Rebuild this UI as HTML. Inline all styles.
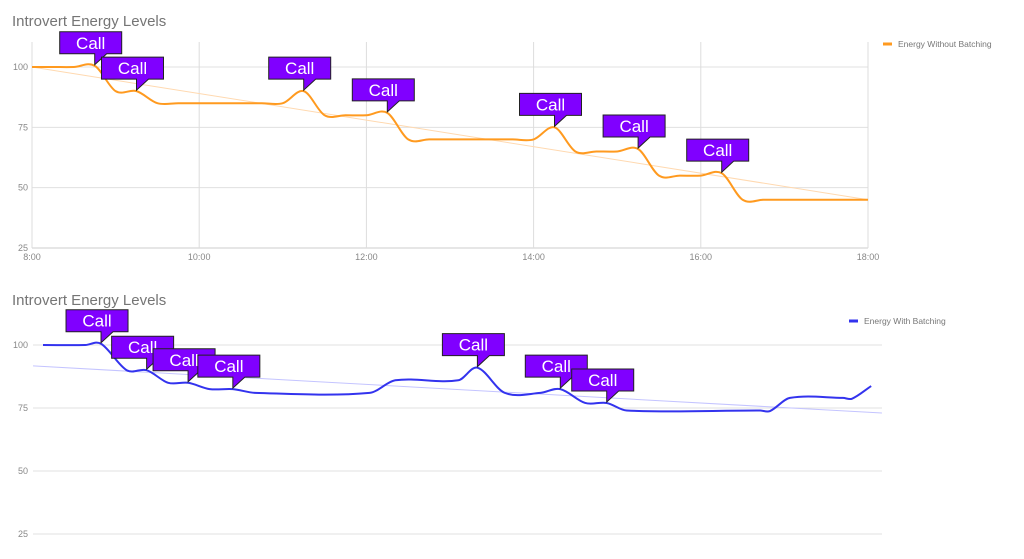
<!DOCTYPE html>
<html><head><meta charset="utf-8"><style>
body{margin:0;background:#fff;width:1024px;height:559px;overflow:hidden;font-family:"Liberation Sans",sans-serif}
svg{display:block}
</style></head><body>
<svg id="c" width="1024" height="559" xmlns="http://www.w3.org/2000/svg"></svg>
<script>
// ---------- Top chart data ----------
const topHours = [8,8.25,8.5,8.75,9,9.25,9.5,9.75,10,10.25,10.5,10.75,11,11.25,11.5,11.75,12,12.25,12.5,12.75,13,13.25,13.5,13.75,14,14.25,14.5,14.75,15,15.25,15.5,15.75,16,16.25,16.5,16.75,17,17.25,17.5,17.75,18];
const topValues = [100,100,100,100.5,90,90,85,85,85,85,85,85,85,90,80,80,80,81,70,70,70,70,70,70,70,75,65,65,65,66,55,55,55,56,45,45,45,45,45,45,45];
const topCallHours = [8.75,9.25,11.25,12.25,14.25,15.25,16.25];
const topCallValues = [100.5,90,90,81,75,66,56];
const topTrend = [100,45];
const topXTicks = ["8:00","10:00","12:00","14:00","16:00","18:00"];
const topXTickHours = [8,10,12,14,16,18];
const yTicks = [100,75,50,25];
// ---------- Bottom chart data ----------
const botHours = [8,8.51,8.7,9.01,9.25,9.51,9.75,10.01,10.29,10.56,11.94,12.25,13.01,13.24,13.57,14.0,14.24,14.54,14.8,15.04,16.65,16.77,17.01,17.65,17.76,17.99];
const botValues = [100,100,100.5,90,90,85,85,82.5,82.5,81,81,86,86,91,81,81,82.5,77,77,74,74,73.8,79,79,78.7,83.7];
const botCallHours = [8.7,9.25,9.75,10.29,13.24,14.24,14.8];
const botCallValues = [100.5,90,85,82.5,91,82.5,77];
const botTrend = [91.7,73];

const svg = document.getElementById('c');
const NS = 'http://www.w3.org/2000/svg';
function mk(tag, attrs, parent){const e=document.createElementNS(NS,tag);for(const k in attrs)e.setAttribute(k,attrs[k]);(parent||svg).appendChild(e);return e;}

function smooth(pts){
  const n=pts.length, m=[];
  for(let i=0;i<n;i++){
    if(i===0) m.push((pts[1][1]-pts[0][1])/(pts[1][0]-pts[0][0]));
    else if(i===n-1) m.push((pts[n-1][1]-pts[n-2][1])/(pts[n-1][0]-pts[n-2][0]));
    else m.push((pts[i+1][1]-pts[i-1][1])/(pts[i+1][0]-pts[i-1][0]));
  }
  let d='M'+pts[0][0]+','+pts[0][1];
  for(let i=0;i<n-1;i++){
    const dx=(pts[i+1][0]-pts[i][0])/3;
    d+=' C'+(pts[i][0]+dx)+','+(pts[i][1]+m[i]*dx)+' '+(pts[i+1][0]-dx)+','+(pts[i+1][1]-m[i+1]*dx)+' '+pts[i+1][0]+','+pts[i+1][1];
  }
  return d;
}

function chart(cfg){
  const g = mk('g',{});
  
  
  const x = h => cfg.x0 + (h-8)*(cfg.x1-cfg.x0)/10;
  const y = v => cfg.y100 + (100-v)*(cfg.y25-cfg.y100)/75;
  const t = mk('text',{x:12,y:cfg.titleY,'font-size':15,fill:'#757575'},g);
  t.textContent='Introvert Energy Levels';
  
  
  yTicks.forEach(v=>{
    const l=mk('line',{x1:cfg.gx0,x2:cfg.gx1,y1:y(v),y2:y(v),stroke:v===25&&cfg.vgrid?'#ccc':'#e0e0e0','stroke-width':1},g);
    
    
    const tl=mk('text',{x:28,y:y(v)+3,'font-size':9,fill:'#888','text-anchor':'end'},g);
    tl.textContent=v;
    
    
  });
  if(cfg.vgrid){
    topXTickHours.forEach((h,i)=>{
      const l=mk('line',{x1:x(h),x2:x(h),y1:42,y2:y(25),stroke:'#ddd','stroke-width':1},g);
      
      
      const tl=mk('text',{x:x(h),y:260,'font-size':9,fill:'#888','text-anchor':'middle'},g);
      tl.textContent=topXTicks[i];
      
      
    });
  }
  const tr=mk('line',{x1:x(cfg.trendH[0]),y1:y(cfg.trend[0]),x2:x(cfg.trendH[1]),y2:y(cfg.trend[1]),stroke:cfg.trendColor,'stroke-width':1},g);
  
  
  const pts=cfg.hours.map((h,i)=>[x(h),y(cfg.values[i])]);
  const p=mk('path',{d:smooth(pts),fill:'none',stroke:cfg.color,'stroke-width':2},g);
  
  
  cfg.callH.forEach((h,i)=>{
    const px=x(h), py=y(cfg.callV[i])-1;
    const L=px-35, B=py-11, T=B-22;
    const cg=mk('g',{},g);
    
    
    mk('path',{d:`M${L},${T} H${L+62} V${B} H${L+47} L${px},${py} L${L+35},${B} H${L} Z`,fill:'#8000ff',stroke:'#222','stroke-width':1},cg);
    const ct=mk('text',{x:L+31,y:B-5,'font-size':17,fill:'#fff','text-anchor':'middle'},cg);
    ct.textContent='Call';
  });
  const lg=mk('g',{},g);
  
  
  mk('rect',{x:cfg.legX,y:cfg.legY-1.5,width:9,height:3,fill:cfg.color},lg);
  const lt=mk('text',{x:cfg.legX+15,y:cfg.legY+3,'font-size':8.5,fill:'#777'},lg);
  lt.textContent=cfg.legend;
}

chart({name:'chart-without-batching',x0:32,x1:868,y100:67,y25:248,gx0:32,gx1:868,titleY:26,vgrid:true,
  hours:topHours,values:topValues,callH:topCallHours,callV:topCallValues,trend:topTrend,trendH:[8,18],
  color:'#ff9a1f',trendColor:'#ffd9b0',legX:883,legY:44,legend:'Energy Without Batching'});
chart({name:'chart-with-batching',x0:43,x1:872,y100:345,y25:534,gx0:33,gx1:882,titleY:305,vgrid:false,
  hours:botHours,values:botValues,callH:botCallHours,callV:botCallValues,trend:botTrend,trendH:[7.88,18.12],
  color:'#3333ee',trendColor:'#c4c4ff',legX:849,legY:321,legend:'Energy With Batching'});
</script>
</body></html>
